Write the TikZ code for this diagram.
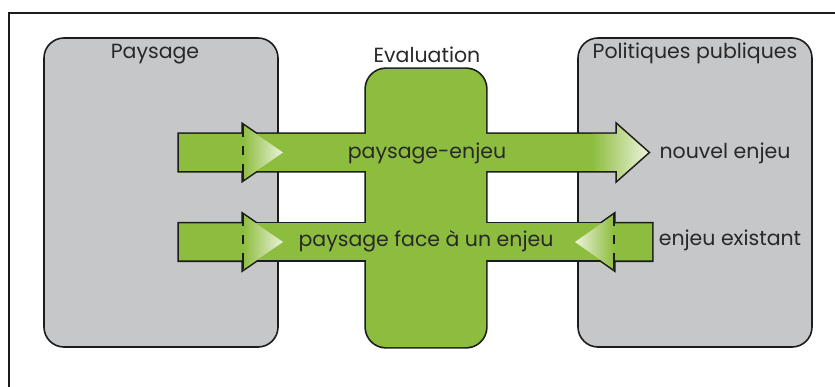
\documentclass[tikz,border=0pt]{standalone}
\usepackage{fontspec}
\setmainfont{Poppins}
\definecolor{leaf}{RGB}{141,189,62}
\definecolor{leaflight}{RGB}{236,242,220}
\definecolor{panel}{RGB}{198,199,201}
\definecolor{ink}{RGB}{28,28,28}
\definecolor{txt}{RGB}{40,40,40}
\tikzset{
  graybox/.style={fill=panel, draw=ink, line width=1.6pt, rounded corners=20pt},
  unionline/.style={draw=ink, line width=3.4pt},
  unionfill/.style={fill=leaf, draw=none},
  headbase/.style={draw=ink, line width=1.5pt, dash pattern=on 12pt off 9pt on 9pt off 9pt on 20pt},
  lbl/.style={inner sep=0pt, text=txt, font=\fontsize{20.5}{24}\selectfont},
}
\begin{document}
\begin{tikzpicture}[x=1pt,y=-1pt]
\useasboundingbox (0,0) rectangle (835,387);
\clip (0,0) rectangle (835,387);
\fill[white] (0,0) rectangle (835,387);
\draw[ink, line width=2pt] (9,400) -- (9,13) -- (850,13);
% side panels
\path[graybox] (44,38) rectangle (278,347);
\path[graybox] (578,38) rectangle (812,347);
% green union: outline first, then fill
\foreach \st in {unionline,unionfill}{
  \path[\st, rounded corners=20pt] (366,69) rectangle (486,347);
  \path[\st] (179,134) -- (243,134) -- (243,125) -- (283,152.5) -- (243,180) -- (243,171) -- (179,171) -- cycle;
  \path[\st] (243,134) -- (617,134) -- (617,125) -- (648,152.5) -- (617,180) -- (617,171) -- (243,171) -- cycle;
  \path[\st] (179,223.5) -- (243,223.5) -- (243,214.5) -- (283,242) -- (243,269.5) -- (243,260.5) -- (179,260.5) -- cycle;
  \path[\st] (243,223.5) rectangle (614,260.5);
  \path[\st] (652,223.5) -- (614,223.5) -- (614,214.5) -- (575,242) -- (614,269.5) -- (614,260.5) -- (652,260.5) -- cycle;
}
% shaded arrow heads
\shade[left color=leaf, right color=leaflight] (243,125) -- (283,152.5) -- (243,180) -- cycle;
\shade[left color=leaf, right color=leaflight] (243,214.5) -- (283,242) -- (243,269.5) -- cycle;
\shade[left color=leaf, right color=leaflight] (592,134) -- (617,134) -- (617,125) -- (648,152.5) -- (617,180) -- (617,171) -- (592,171) -- cycle;
\shade[right color=leaf, left color=leaflight] (614,214.5) -- (575,242) -- (614,269.5) -- cycle;
% dashed head bases
\path[headbase] (243,125) -- (243,180);
\path[headbase] (243,214.5) -- (243,269.5);
\path[headbase] (614,214.5) -- (614,269.5);
% labels
\node[lbl] (paysage) at (155,54) {Paysage};
\node[lbl] (eval) at (427,55) {Evaluation};
\node[lbl] (pol) at (695,53) {Politiques publiques};
\node[lbl] (pe) at (427,153) {paysage-enjeu};
\node[lbl] (pf) at (426,241) {paysage face à un enjeu};
\node[lbl] (ne) at (725,153) {nouvel enjeu};
\node[lbl] (ee) at (730,240) {enjeu existant};
\end{tikzpicture}
\end{document}
